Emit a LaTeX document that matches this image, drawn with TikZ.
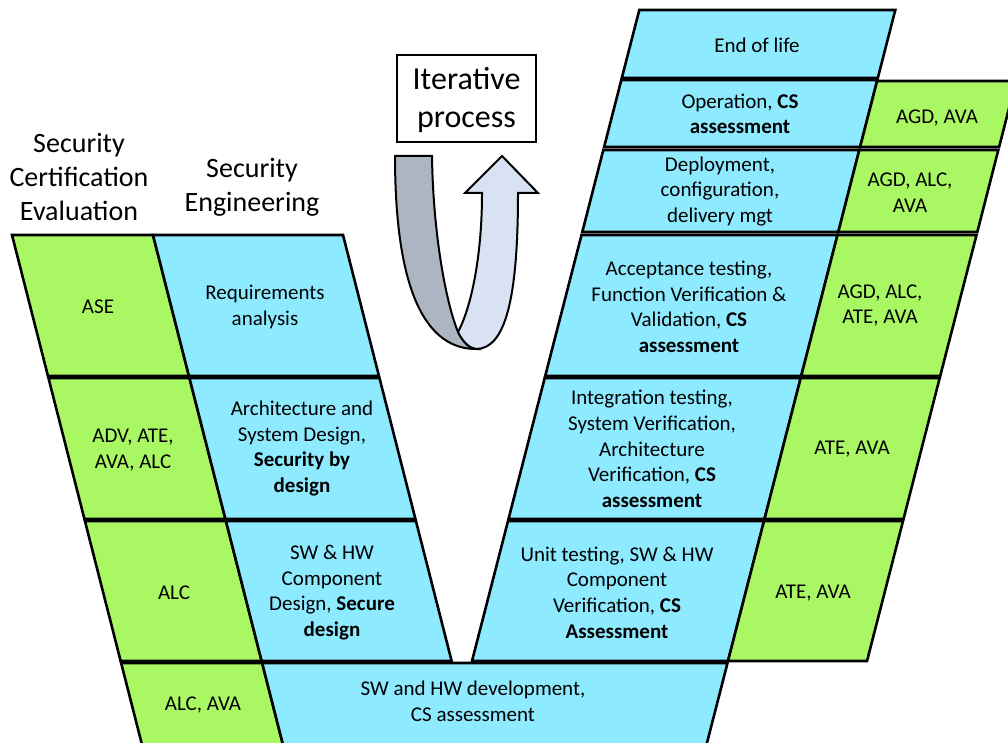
\documentclass[tikz,border=0pt]{standalone}
\usepackage{fontspec}
\setmainfont{Carlito}
\definecolor{cellblue}{RGB}{142,234,255}
\definecolor{cellgreen}{RGB}{170,247,100}
\definecolor{arrgrey}{RGB}{173,181,194}
\definecolor{arrlight}{RGB}{217,226,243}
\begin{document}
\begin{tikzpicture}[x=1pt,y=-1pt,
  cell/.style={draw=black, line width=2.6pt, line join=miter},
  bluecell/.style={cell, fill=cellblue},
  greencell/.style={cell, fill=cellgreen},
  txt/.style={font=\fontsize{21}{25.6}\selectfont, align=center, inner sep=0pt},
  head/.style={font=\fontsize{28}{34}\selectfont, align=center, inner sep=0pt},
  arrowpart/.style={draw=black, line width=2pt, line join=miter}]
\useasboundingbox (0,0) rectangle (1008,743);
\clip (0,0) rectangle (1008,743);

% ---- left side ----
\draw[greencell] (12,235) -- (153,235) -- (188.96,376) -- (47.96,376) -- cycle;
\draw[bluecell] (153,235) -- (343,235) -- (378.96,376) -- (188.96,376) -- cycle;
\draw[greencell] (48.47,378) -- (189.47,378) -- (225.42,519) -- (84.42,519) -- cycle;
\draw[bluecell] (189.47,378) -- (379.47,378) -- (415.42,519) -- (225.42,519) -- cycle;
\draw[greencell] (84.93,521) -- (225.93,521) -- (261.63,661) -- (120.63,661) -- cycle;
\draw[bluecell] (225.93,521) -- (415.93,521) -- (451.63,661) -- (261.63,661) -- cycle;
\draw[greencell] (121.14,663) -- (262.14,663) -- (286.9,760) -- (145.9,760) -- cycle;
\draw[bluecell] (262.14,663) -- (727.5,663) -- (702.6,760) -- (286.9,760) -- cycle;

% ---- right side ----
\draw[bluecell] (639.3,10) -- (895.3,10) -- (877.8,78) -- (621.8,78) -- cycle;
\draw[bluecell] (621.3,80) -- (877.3,80) -- (860.1,147) -- (604.1,147) -- cycle;
\draw[bluecell] (603.3,150) -- (859.3,150) -- (838.3,232) -- (582.3,232) -- cycle;
\draw[bluecell] (581.5,235) -- (837.5,235) -- (801.2,376) -- (545.2,376) -- cycle;
\draw[bluecell] (544.7,378) -- (800.7,378) -- (764.5,519) -- (508.5,519) -- cycle;
\draw[bluecell] (508,521) -- (764,521) -- (728,661) -- (472,661) -- cycle;

\draw[greencell] (877.1,81) -- (1016,81) -- (999.1,147) -- (860.1,147) -- cycle;
\draw[greencell] (859.3,150) -- (998.3,150) -- (977.3,232) -- (838.3,232) -- cycle;
\draw[greencell] (837.5,235) -- (976.5,235) -- (940.2,376) -- (801.2,376) -- cycle;
\draw[greencell] (800.7,378) -- (939.7,378) -- (903.5,519) -- (764.5,519) -- cycle;
\draw[greencell] (764,521) -- (903,521) -- (867,661) -- (728,661) -- cycle;

% ---- iterative arrow ----
\draw[arrowpart, fill=arrgrey] (395,156) -- (432,156)
  .. controls (433,230) and (445,300) .. (458,332)
  .. controls (463,342) and (469,348) .. (476,349)
  .. controls (430,349) and (395,300) .. (395,156) -- cycle;
\draw[arrowpart, fill=arrlight] (476,349)
  .. controls (505,349) and (518,300) .. (518,193)
  -- (538,193) -- (502,156) -- (465,193) -- (482,193)
  .. controls (482,260) and (470,310) .. (458,332)
  .. controls (463,342) and (469,348) .. (476,349) -- cycle;

\node[draw=black, line width=1.8pt, minimum width=139pt, minimum height=87pt, inner sep=0pt] (iterbox) at (466.5,98.5) {};
\node[font=\fontsize{32}{38}\selectfont, align=center, inner sep=0pt] (iter) at (466.5,100) {Iterative\\process};

% ---- headers ----
\node[head] (hcert) at (79,177) {Security\\Certification\\Evaluation};
\node[head] (heng) at (252,187) {Security\\Engineering};

% ---- left texts ----
\node[txt] (ase) at (98,307) {ASE};
\node[txt] (req) at (265,307) {Requirements\\analysis};
\node[txt] (adv) at (133,450) {ADV, ATE,\\AVA, ALC};
\node[txt] (arch) at (302,448.5) {Architecture and\\System Design,\\\textbf{Security by}\\\textbf{design}};
\node[txt] (alc) at (174,593) {ALC};
\node[txt] (comp) at (332,592.5) {SW \& HW\\Component\\Design, \textbf{Secure}\\\textbf{design}};
\node[txt] (alcava) at (203,705) {ALC, AVA};
\node[txt] (dev) at (473,701) {SW and HW development,\\CS assessment};

% ---- right texts ----
\node[txt] (eol) at (757,45) {End of life};
\node[txt] (op) at (740,114) {Operation, \textbf{CS}\\\textbf{assessment}};
\node[txt] (dep) at (720,191.5) {Deployment,\\configuration,\\delivery mgt};
\node[txt] (acc) at (689,307) {Acceptance testing,\\Function Verification \&\\Validation, \textbf{CS}\\\textbf{assessment}};
\node[txt] (integ) at (652,449) {Integration testing,\\System Verification,\\Architecture\\Verification, \textbf{CS}\\\textbf{assessment}};
\node[txt] (unit) at (617,592.5) {Unit testing, SW \& HW\\Component\\Verification, \textbf{CS}\\\textbf{Assessment}};

\node[txt] (g1) at (937,118) {AGD, AVA};
\node[txt] (g2) at (910,192.5) {AGD, ALC,\\AVA};
\node[txt] (g3) at (880,305.5) {AGD, ALC,\\ATE, AVA};
\node[txt] (g4) at (852,449) {ATE, AVA};
\node[txt] (g5) at (813,593) {ATE, AVA};
\end{tikzpicture}
\end{document}
